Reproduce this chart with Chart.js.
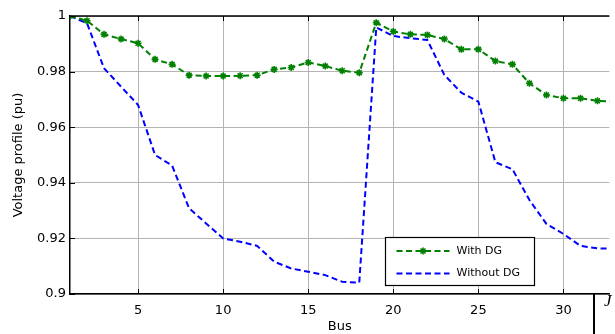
<!DOCTYPE html>
<html>
<head>
<meta charset="utf-8">
<script src="https://cdn.jsdelivr.net/npm/chart.js@4/dist/chart.umd.min.js"></script>
<style>
html,body{margin:0;padding:0;background:#fff;overflow:hidden;}
#wrap{position:relative;width:615px;height:334px;}
</style>
</head>
<body>
<div id="wrap"><canvas id="c" width="615" height="334"></canvas></div>
<script>
const buses = [1,2,3,4,5,6,7,8,9,10,11,12,13,14,15,16,17,18,19,20,21,22,23,24,25,26,27,28,29,30,31,32,33];
const withDG = [1.0,0.9983,0.9934,0.9917,0.9902,0.9844,0.9826,0.9787,0.9784,0.9784,0.9785,0.9787,0.9808,0.9815,0.9833,0.9820,0.9803,0.9796,
  0.9976,0.9944,0.9934,0.9932,0.9917,0.9880,0.9880,0.9838,0.9826,0.9758,0.9716,0.9704,0.9704,0.9695,0.9692];
const withoutDG = [1.0,0.9974,0.9812,0.9746,0.9680,0.9500,0.9462,0.9308,0.9254,0.9200,0.9188,0.9173,0.9116,0.9092,0.9080,0.9068,0.9044,0.9041,
  0.9959,0.9928,0.9920,0.9914,0.9788,0.9724,0.9692,0.9474,0.9449,0.9338,0.9252,0.9216,0.9173,0.9164,0.9163];
const xTicks = [5,10,15,20,25,30];
const yTicks = [0.9,0.92,0.94,0.96,0.98,1];
const seriesNames = ["With DG","Without DG"];
const xTitle = "Bus";
const yTitle = "Voltage profile (pu)";

const FONT = "'DejaVu Sans', sans-serif";

const decor = {
  id: 'decor',
  afterDraw(chart) {
    const ctx = chart.ctx, a = chart.chartArea;
    const xs = chart.scales.x, ys = chart.scales.y;
    ctx.save();
    // top border
    ctx.strokeStyle = '#000'; ctx.lineWidth = 1.5;
    ctx.beginPath(); ctx.moveTo(a.left, a.top); ctx.lineTo(a.right, a.top); ctx.stroke();
    // inner tick marks
    ctx.lineWidth = 1;
    ctx.beginPath();
    xTicks.forEach(v => {
      const px = Math.round(xs.getPixelForValue(v)) + 0.5;
      ctx.moveTo(px, a.bottom); ctx.lineTo(px, a.bottom - 5);
      ctx.moveTo(px, a.top); ctx.lineTo(px, a.top + 5);
    });
    yTicks.forEach(v => {
      const py = Math.round(ys.getPixelForValue(v)) + 0.5;
      ctx.moveTo(a.left, py); ctx.lineTo(a.left + 5, py);
    });
    ctx.stroke();
    // axis titles
    ctx.fillStyle = '#000';
    ctx.font = "13px " + FONT;
    ctx.textAlign = 'center'; ctx.textBaseline = 'middle';
    ctx.fillText(xTitle, (a.left + a.right) / 2, 327);
    ctx.save();
    ctx.translate(18.5, (a.top + a.bottom) / 2);
    ctx.rotate(-Math.PI / 2);
    ctx.fillText(yTitle, 0, 0);
    ctx.restore();
    // legend box
    const lx = Math.round(xs.getPixelForValue(20) - 8.5) + 0.5, ly = Math.round(ys.getPixelForValue(0.9206)) + 0.5;
    const lw = 149, lh = 48;
    ctx.fillStyle = '#fff';
    ctx.fillRect(lx, ly, lw, lh);
    ctx.strokeStyle = '#000'; ctx.lineWidth = 1.2;
    ctx.strokeRect(lx, ly, lw, lh);
    const dsets = chart.data.datasets;
    const rows = [ly + 13.5, ly + 36];
    dsets.forEach((ds, i) => {
      const y = rows[i];
      ctx.save();
      ctx.strokeStyle = ds.borderColor; ctx.lineWidth = ds.borderWidth;
      ctx.setLineDash(ds.borderDash);
      ctx.beginPath(); ctx.moveTo(lx + 11, y); ctx.lineTo(lx + 64, y); ctx.stroke();
      ctx.restore();
      if (ds.pointRadius > 0) {
        ctx.save();
        ctx.strokeStyle = ds.borderColor; ctx.fillStyle = ds.borderColor; ctx.lineWidth = ds.pointBorderWidth;
        Chart.helpers.drawPoint(ctx, {pointStyle: ds.pointStyle, radius: ds.pointRadius, borderWidth: ds.pointBorderWidth}, lx + 37.5, y);
        ctx.restore();
      }
      ctx.fillStyle = '#000';
      ctx.font = "11px " + FONT;
      ctx.textAlign = 'left'; ctx.textBaseline = 'middle';
      ctx.fillText(ds.label, lx + 71, y);
    });
    // neighbouring figure fragment at right edge
    ctx.strokeStyle = '#000'; ctx.lineWidth = 2;
    ctx.beginPath(); ctx.moveTo(594, a.bottom); ctx.lineTo(594, 334); ctx.stroke();
    ctx.fillStyle = '#000';
    ctx.font = "italic 17px 'Liberation Serif', serif";
    ctx.textAlign = 'left'; ctx.textBaseline = 'alphabetic';
    ctx.fillText('J', 604, 306);
    ctx.restore();
  }
};

new Chart(document.getElementById('c'), {
  type: 'line',
  data: {
    datasets: [
      {
        label: seriesNames[0],
        data: buses.map((b, i) => ({x: b, y: withDG[i]})),
        borderColor: 'rgb(0,128,0)', backgroundColor: 'rgb(0,128,0)',
        borderWidth: 2, borderDash: [6, 3.5],
        pointStyle: 'star', pointRadius: 3.5, pointBorderWidth: 1.6,
        pointBorderColor: 'rgb(0,128,0)', pointBackgroundColor: 'rgb(0,128,0)',
        tension: 0, fill: false
      },
      {
        label: seriesNames[1],
        data: buses.map((b, i) => ({x: b, y: withoutDG[i]})),
        borderColor: 'rgb(0,0,255)', backgroundColor: 'rgb(0,0,255)',
        borderWidth: 2, borderDash: [6, 3.5],
        pointRadius: 0, pointBorderWidth: 0, pointStyle: 'circle',
        tension: 0, fill: false
      }
    ]
  },
  options: {
    responsive: false,
    animation: false,
    devicePixelRatio: 1,
    layout: {padding: {left: 0, right: 0, top: 16, bottom: 0}},
    plugins: {legend: {display: false}, tooltip: {enabled: false}},
    scales: {
      x: {
        type: 'linear', min: 1, max: 32.7,
        afterBuildTicks: s => { s.ticks = xTicks.map(v => ({value: v})); },
        afterFit: s => { s.height = 40; },
        grid: {color: '#b4b4b4', lineWidth: 1, drawTicks: false},
        border: {color: '#000', width: 1.5},
        ticks: {color: '#000', font: {family: FONT, size: 13}, padding: 9, maxRotation: 0,
          callback: v => String(v)}
      },
      y: {
        min: 0.9, max: 1,
        afterBuildTicks: s => { s.ticks = yTicks.map(v => ({value: v})); },
        afterFit: s => { s.width = 70; },
        grid: {color: '#b4b4b4', lineWidth: 1, drawTicks: false},
        border: {color: '#000', width: 1.5},
        ticks: {color: '#000', font: {family: FONT, size: 13}, padding: 4,
          callback: v => String(Number(v.toFixed(2)))}
      }
    }
  },
  plugins: [decor]
});
</script>
</body>
</html>
